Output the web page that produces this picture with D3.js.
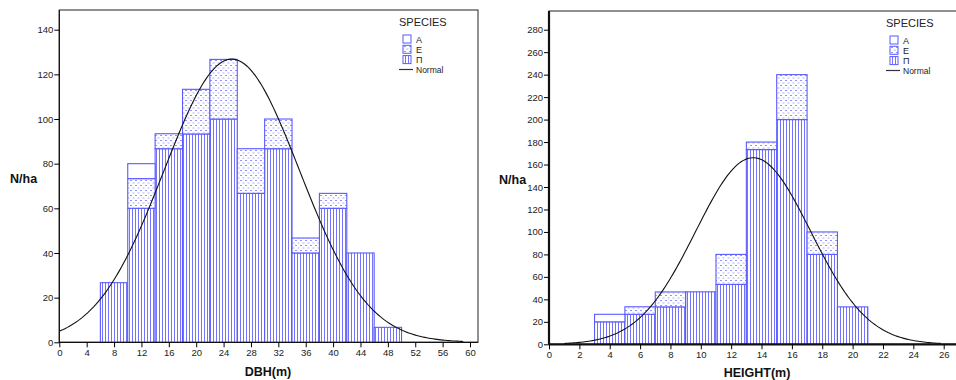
<!DOCTYPE html>
<html>
<head>
  <meta charset="utf-8">
  <title>DBH and HEIGHT histograms</title>
  <script src="https://d3js.org/d3.v7.min.js"></script>
  <style>
    body { margin: 0; background: #fff; }
    text { font-family: "Liberation Sans", Arial, sans-serif; fill: #222; }
    .tick text { font-size: 9.5px; }
    .title { font-size: 12.5px; font-weight: bold; fill: #111; }
  </style>
</head>
<body>
<div id="chart"></div>
<script>
"use strict"

// DBH chart (bins 4 cm wide, left edges)
const dbhStarts = [6, 10, 14, 18, 22, 26, 30, 34, 38, 42, 46];
const dbhP = [26.7, 60, 86.7, 93.3, 100, 66.7, 86.7, 40, 60, 40, 6.7];
const dbhE = [0, 13.3, 6.7, 20, 26.7, 20, 13.3, 6.7, 6.7, 0, 0];
const dbhA = [0, 6.7, 0, 0, 0, 0, 0, 0, 0, 0, 0];
const dbhXTicks = d3.range(0, 61, 4);
const dbhYTicks = [0, 20, 40, 60, 80, 100, 120, 140];
const dbhMean = 25.2, dbhSd = 9.9;

// HEIGHT chart (bins 2 m wide)
const hStarts = [3, 5, 7, 9, 11, 13, 15, 17, 19];
const hP = [20, 26.7, 33.3, 46.7, 53.3, 173.3, 200, 80, 33.3];
const hE = [0, 6.7, 13.3, 0, 26.7, 6.7, 40, 20, 0];
const hA = [6.7, 0, 0, 0, 0, 0, 0, 0, 0];
const hXTicks = d3.range(0, 27, 2);
const hYTicks = d3.range(0, 281, 20);
const hMean = 13.45, hSd = 3.78;

const species = ["A", "E", "П"];

const svg = d3.select("#chart").append("svg")
  .attr("width", 956).attr("height", 380);

// patterns
const defs = svg.append("defs");
const vp = defs.append("pattern").attr("id", "patP")
  .attr("patternUnits", "userSpaceOnUse").attr("width", 3).attr("height", 4);
vp.append("rect").attr("width", 3).attr("height", 4).attr("fill", "#fff");
vp.append("rect").attr("x", 0).attr("width", 1).attr("height", 4).attr("fill", "#7373ff");
const dp = defs.append("pattern").attr("id", "patE")
  .attr("patternUnits", "userSpaceOnUse").attr("width", 5).attr("height", 5);
dp.append("rect").attr("width", 5).attr("height", 5).attr("fill", "#fff");
dp.append("rect").attr("x", 0).attr("y", 0).attr("width", 2).attr("height", 1).attr("fill", "#9090ff");
dp.append("rect").attr("x", 2.5).attr("y", 2.5).attr("width", 2).attr("height", 1).attr("fill", "#b0b0ff");

const fills = { "П": "url(#patP)", "E": "url(#patE)", "A": "#fff" };

function drawHist(o) {
  const g = svg.append("g");
  const x = d3.scaleLinear().domain(o.xDomain).range(o.xRange);
  const y = d3.scaleLinear().domain(o.yDomain).range(o.yRange);

  // frame
  g.append("rect")
    .attr("x", o.frame[0]).attr("y", o.frame[1])
    .attr("width", o.frame[2] - o.frame[0]).attr("height", o.frame[3] - o.frame[1])
    .attr("fill", "none").attr("stroke", "#222").attr("stroke-width", 1);

  // stacked bars: П bottom, E middle, A top
  const rows = o.starts.map((s, i) => ({ s: s, P: o.P[i], E: o.E[i], A: o.A[i] }));
  const stack = d3.stack().keys(["P", "E", "A"])(rows);
  const keyName = { P: "П", E: "E", A: "A" };
  stack.forEach(layer => {
    g.append("g").selectAll("rect")
      .data(layer.filter(d => d[1] - d[0] > 0))
      .enter().append("rect")
        .attr("x", d => x(d.data.s))
        .attr("width", d => x(d.data.s + o.bw) - x(d.data.s))
        .attr("y", d => y(d[1]))
        .attr("height", d => y(d[0]) - y(d[1]))
        .attr("fill", fills[keyName[layer.key]])
        .attr("stroke", "#5a5aff").attr("stroke-width", 1.1);
  });

  // fitted normal curve
  const total = d3.sum(o.P) + d3.sum(o.E) + d3.sum(o.A);
  const pts = d3.range(o.curve[0], o.curve[1] + 0.001, (o.curve[1] - o.curve[0]) / 200).map(v => [v,
    total * o.bw / (o.sd * Math.sqrt(2 * Math.PI)) * Math.exp(-((v - o.mean) ** 2) / (2 * o.sd * o.sd))]);
  g.append("path")
    .attr("d", d3.line().x(d => x(d[0])).y(d => y(d[1]))(pts))
    .attr("fill", "none").attr("stroke", "#111").attr("stroke-width", 1.1);

  // axes
  const ax = g.append("g").attr("transform", "translate(0," + o.yRange[0] + ")")
    .call(d3.axisBottom(x).tickValues(o.xTicks).tickSize(5).tickPadding(2).tickFormat(d3.format("d")));
  ax.select(".domain").attr("stroke", "#111").attr("stroke-width", o.axisW)
    .attr("d", "M" + o.frame[0] + ",0H" + o.frame[2]);
  const ay = g.append("g").attr("transform", "translate(" + o.frame[0] + ",0)")
    .call(d3.axisLeft(y).tickValues(o.yTicks).tickSize(5).tickPadding(1).tickFormat(d3.format("d")));
  ay.select(".domain").attr("stroke", "#111").attr("stroke-width", o.axisW)
    .attr("d", "M0," + o.frame[1] + "V" + o.yRange[0]);

  // titles
  g.append("text").attr("class", "title").attr("x", o.yTitle[0]).attr("y", o.yTitle[1]).text("N/ha");
  g.append("text").attr("class", "title").attr("x", o.xTitle[0]).attr("y", o.xTitle[1])
    .attr("text-anchor", "middle").text(o.xLabel);

  // legend
  const lg = g.append("g").attr("transform", "translate(" + o.legend[0] + "," + o.legend[1] + ")");
  lg.append("text").attr("x", 0).attr("y", 0).style("font-size", "11px").text("SPECIES");
  species.forEach((s, i) => {
    lg.append("rect").attr("x", 4).attr("y", 9 + i * 10.3).attr("width", 8).attr("height", 8)
      .attr("fill", fills[s]).attr("stroke", "#5a5aff").attr("stroke-width", 1);
    lg.append("text").attr("x", 17).attr("y", 16.5 + i * 10.3).style("font-size", "9px").text(s);
  });
  lg.append("line").attr("x1", 0).attr("x2", 14).attr("y1", 43.5).attr("y2", 43.5)
    .attr("stroke", "#333").attr("stroke-width", 1.2);
  lg.append("text").attr("x", 17).attr("y", 46.5).style("font-size", "8.5px").text("Normal");
}

drawHist({
  starts: dbhStarts, P: dbhP, E: dbhE, A: dbhA, bw: 4,
  xDomain: [0, 60], xRange: [59.3, 470], yDomain: [0, 140], yRange: [342.3, 29.7],
  frame: [59.3, 10, 478, 342.3], xTicks: dbhXTicks, yTicks: dbhYTicks,
  mean: dbhMean, sd: dbhSd, curve: [0, 59],
  axisW: 1.2, yTitle: [10, 183], xTitle: [268, 376], xLabel: "DBH(m)", legend: [399, 26]
});

drawHist({
  starts: hStarts, P: hP, E: hE, A: hA, bw: 2,
  xDomain: [0, 26], xRange: [549, 943.7], yDomain: [0, 280], yRange: [344.3, 29.7],
  frame: [549, 11, 970, 344.3], xTicks: hXTicks, yTicks: hYTicks,
  mean: hMean, sd: hSd, curve: [1, 25.8],
  axisW: 2.2, yTitle: [499, 184], xTitle: [757, 377], xLabel: "HEIGHT(m)", legend: [886, 27]
});
</script>
</body>
</html>
